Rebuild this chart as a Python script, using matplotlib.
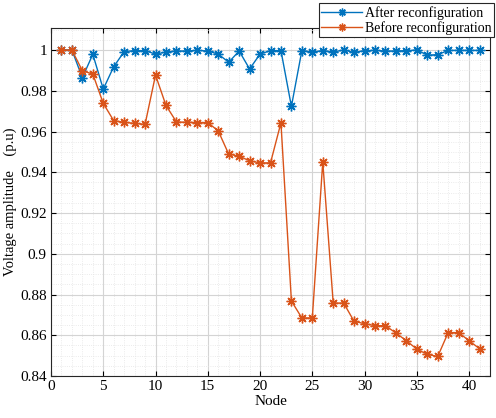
import matplotlib

matplotlib.use("Agg")

import matplotlib.pyplot as plt
from matplotlib.ticker import MultipleLocator

plt.rcParams["font.family"] = ["Liberation Serif", "DejaVu Serif"]

nodes = list(range(1, 42))
after = [
    1.0, 1.0, 0.9864, 0.9979, 0.9808, 0.9918, 0.9992, 0.9997, 0.9997, 0.998,
    0.999, 0.9995, 0.9995, 0.9998, 0.9995, 0.998, 0.994, 0.9995, 0.9907, 0.998,
    0.9997, 0.9997, 0.9723, 0.9997, 0.999, 0.9997, 0.999, 1.0, 0.9988, 0.9997,
    0.9998, 0.9995, 0.9995, 0.9997, 1.0, 0.9975, 0.9977, 0.9998, 0.9998, 0.9998,
    0.9998,
]
before = [
    1.0, 1.0, 0.9898, 0.9882, 0.9738, 0.9653, 0.9645, 0.964, 0.9635, 0.9877,
    0.9728, 0.9647, 0.9645, 0.9644, 0.9644, 0.9603, 0.9489, 0.9479, 0.9456, 0.9446,
    0.9446, 0.9643, 0.8768, 0.8685, 0.8685, 0.9451, 0.8758, 0.8758, 0.8668, 0.8657,
    0.8647, 0.8647, 0.8611, 0.8573, 0.8532, 0.8506, 0.8496, 0.8613, 0.8613, 0.8573,
    0.8534,
]
yticks = [0.84, 0.86, 0.88, 0.9, 0.92, 0.94, 0.96, 0.98, 1.0]
ytick_labels = ["0.84", "0.86", "0.88", "0.9", "0.92", "0.94", "0.96", "0.98", "1"]

BLUE = "#0072BD"
ORANGE = "#D95319"
ASTERISK = (8, 2, 0)  # MATLAB-style '*' marker

fig = plt.figure(figsize=(4.96, 4.18), dpi=100)
ax = fig.add_axes([51 / 496, 1 - 376 / 418, 439 / 496, 348 / 418])

style = dict(marker=ASTERISK, markersize=7, markeredgewidth=1.0, linewidth=1.0)
ax.plot(nodes, after, color=BLUE, label="After reconfiguration", **style)
ax.plot(nodes, before, color=ORANGE, label="Before reconfiguration", **style)

ax.set_xlim(0, 42)
ax.set_ylim(0.84, 1.0108)
ax.xaxis.set_major_locator(MultipleLocator(5))
ax.xaxis.set_minor_locator(MultipleLocator(1))
ax.set_yticks(yticks)
ax.set_yticklabels(ytick_labels)
ax.yaxis.set_minor_locator(MultipleLocator(0.005))

ax.grid(which="major", color="#d4d4d4", linewidth=0.8)
ax.grid(which="minor", color="#e4e4e4", linewidth=0.6, linestyle=":")
ax.set_axisbelow(True)
ax.tick_params(which="both", direction="in", top=True, right=True, labelsize=11, pad=3)
ax.tick_params(which="minor", length=0)
for spine in ax.spines.values():
    spine.set_color("#262626")

ax.set_xlabel("Node", fontsize=11, labelpad=1)
ax.set_ylabel("Voltage amplitude    (p.u)", fontsize=10.5, labelpad=2)

leg = ax.legend(loc="upper right", bbox_to_anchor=(1.009, 1.072), fontsize=10,
                fancybox=False, framealpha=1, edgecolor="#262626",
                handlelength=2.9, borderpad=0.2, labelspacing=0.1,
                handletextpad=0.2, borderaxespad=0, markerscale=0.8)
leg.get_frame().set_linewidth(0.8)

fig.savefig("out.png", dpi=100)
plt.close(fig)
